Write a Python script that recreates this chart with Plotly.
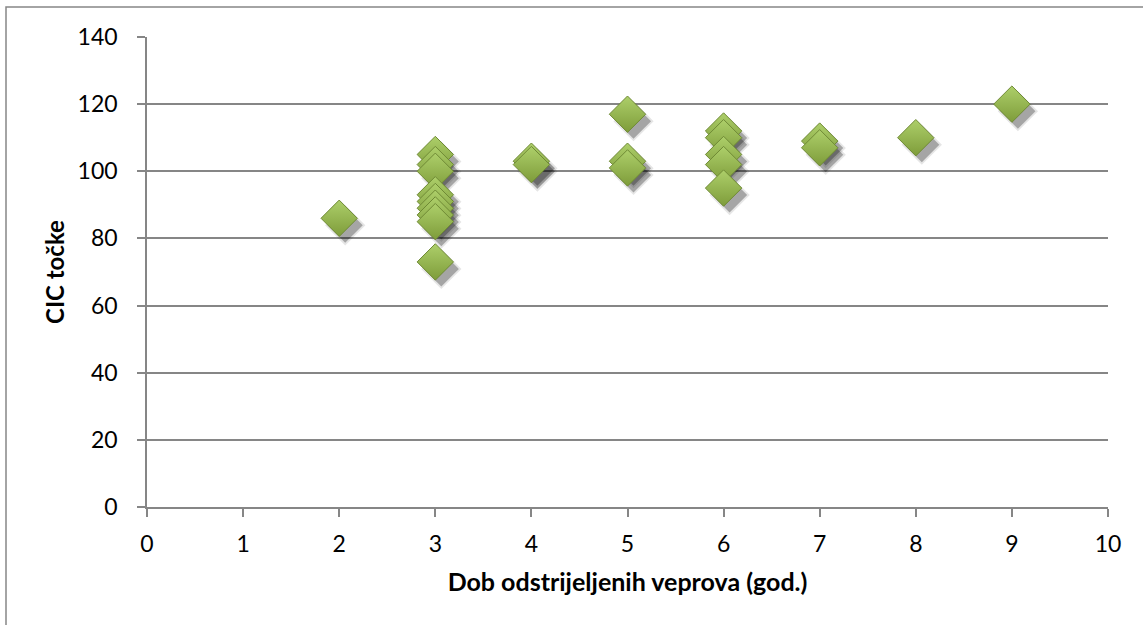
import plotly.graph_objects as go

# Data
age_years = [2,
             3, 3, 3, 3, 3, 3, 3, 3, 3,
             4, 4,
             5, 5, 5,
             6, 6, 6, 6, 6,
             7, 7,
             8,
             9]
cic_points = [86,
              105, 102, 100, 93, 91, 89, 87, 85, 73,
              103, 102,
              117, 103, 101,
              112, 110, 105, 102, 95,
              109, 107,
              110,
              120]

x_ticks = list(range(0, 11))
y_ticks = list(range(0, 141, 20))

W, H = 1143, 625
ML, MR, MT, MB = 147, 35, 37, 118
pw, ph = W - ML - MR, H - MT - MB
xr, yr = (0, 10), (0, 140)
px_x = pw / (xr[1] - xr[0])
px_y = ph / (yr[1] - yr[0])

# shadow offsets converted from pixels to data units
sdx, sdy = 6 / px_x, 7 / px_y

fig = go.Figure()
fig.add_trace(go.Scatter(
    x=[a + sdx for a in age_years], y=[c - sdy for c in cic_points],
    mode="markers", hoverinfo="skip", showlegend=False,
    marker=dict(symbol="diamond", size=31, color="rgba(0,0,0,0.10)", line=dict(width=0))))
fig.add_trace(go.Scatter(
    x=[a + sdx for a in age_years], y=[c - sdy for c in cic_points],
    mode="markers", hoverinfo="skip", showlegend=False,
    marker=dict(symbol="diamond", size=27, color="rgba(0,0,0,0.28)", line=dict(width=0))))
fig.add_trace(go.Scatter(
    x=age_years, y=cic_points, mode="markers", showlegend=False,
    marker=dict(symbol="diamond", size=28, color="#ADCF6A",
                gradient=dict(type="vertical", color="#7E9C3A"),
                line=dict(color="#6F8A35", width=1))))

font_family = "Lato, 'Open Sans', sans-serif"
fig.update_layout(
    width=W, height=H,
    margin=dict(l=ML, r=MR, t=MT, b=MB),
    paper_bgcolor="white", plot_bgcolor="white",
    font=dict(family=font_family, color="black", size=23),
    xaxis=dict(range=xr, tickmode="array", tickvals=x_ticks, ticktext=[str(v) for v in x_ticks],
               showgrid=False, zeroline=False, showline=True, linecolor="#868686", linewidth=1.5,
               ticks="outside", ticklen=8, tickcolor="#868686", tickwidth=1.5,
               tickfont=dict(size=23), ticklabelstandoff=8,
               title=dict(text="<b>Dob odstrijeljenih veprova (god.)</b>", font=dict(size=25), standoff=17)),
    yaxis=dict(range=yr, tickmode="array", tickvals=y_ticks, ticktext=[str(v) for v in y_ticks],
               showgrid=True, gridcolor="#868686", gridwidth=1.5, zeroline=False,
               showline=True, linecolor="#868686", linewidth=1.5,
               ticks="outside", ticklen=8, tickcolor="#868686", tickwidth=1.5,
               tickfont=dict(size=23), ticklabelstandoff=15,
               title=dict(text="<b>CIC točke</b>", font=dict(size=24), standoff=6)),
    shapes=[dict(type="rect", xref="paper", yref="paper",
                 x0=(6 - ML) / pw, x1=1.06, y0=-0.3, y1=(MT + ph - 7) / ph,
                 line=dict(color="#868686", width=1.5), fillcolor="rgba(0,0,0,0)", layer="below")],
)

fig.write_html("out.html", config={"displayModeBar": False},
               post_script="document.body.style.margin='0px';")
